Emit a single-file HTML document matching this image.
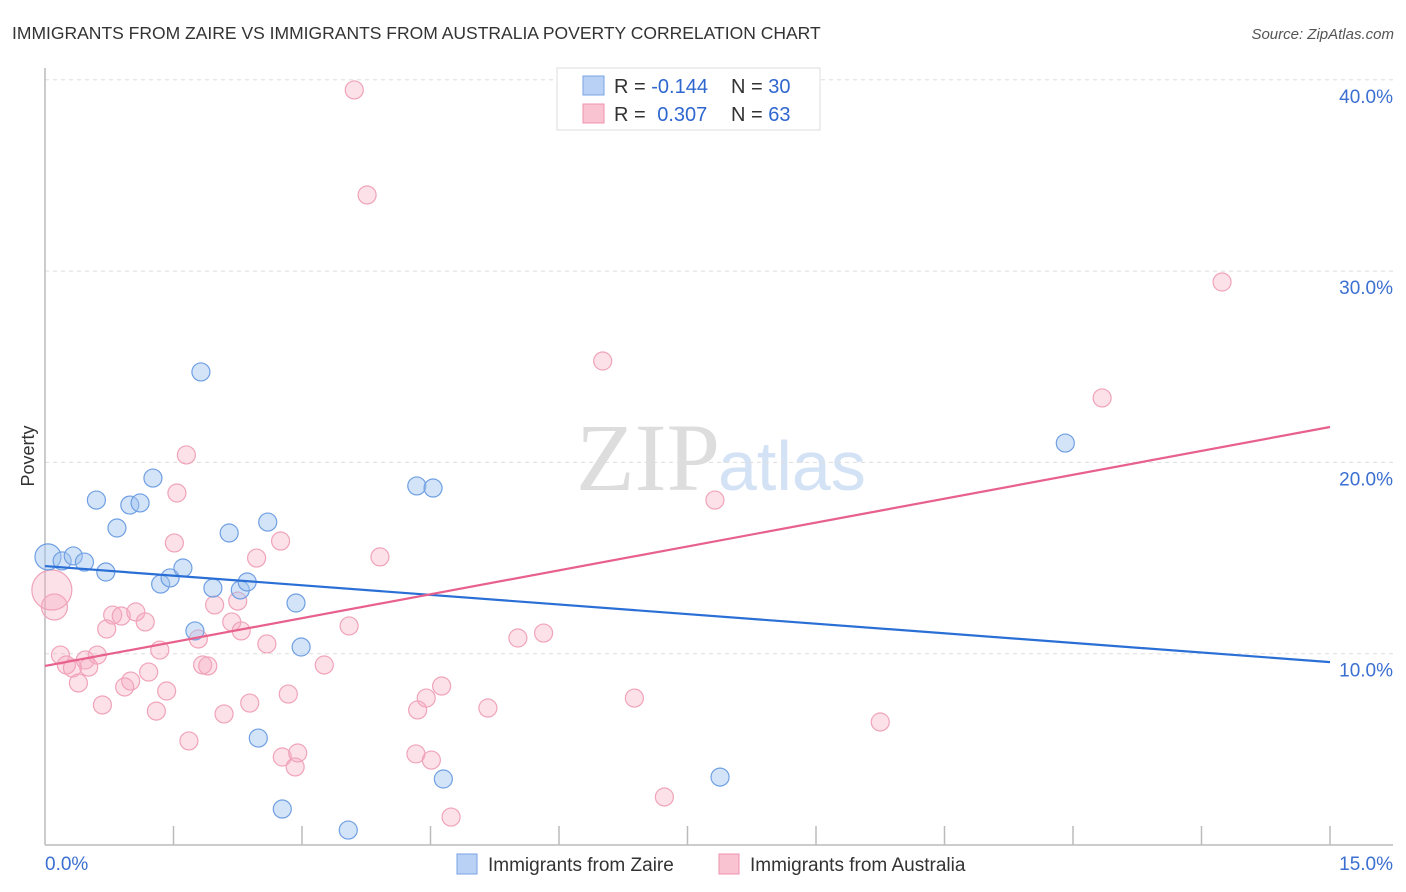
<!DOCTYPE html>
<html><head><meta charset="utf-8"><style>
body{margin:0;background:#fff;font-family:"Liberation Sans",sans-serif;}
#wrap{position:relative;width:1406px;height:892px;overflow:hidden;}
</style></head><body><div id="wrap">
<svg id="svg" width="1406" height="892" xmlns="http://www.w3.org/2000/svg">
<text x="12" y="39" font-size="17.5" fill="#333">IMMIGRANTS FROM ZAIRE VS IMMIGRANTS FROM AUSTRALIA POVERTY CORRELATION CHART</text>
<text x="1394" y="39" font-size="15" fill="#555" font-style="italic" text-anchor="end">Source: ZipAtlas.com</text>
<text x="720" y="490" font-size="96" fill="#ddd" font-family="Liberation Serif,serif" text-anchor="end">ZIP</text>
<text x="718" y="490" font-size="70" fill="#d4e2f5" text-anchor="start">atlas</text>
<text transform="translate(34,456) rotate(-90)" font-size="18" fill="#333" text-anchor="middle">Poverty</text>
<g id="grid"></g><g id="axes"></g><g id="pts"></g><g id="lines"></g>
<g>
<rect x="557" y="68" width="263" height="62" fill="#fff" stroke="#ddd"/>
<rect x="583" y="76" width="21" height="19" fill="#b9d1f5" stroke="#7aa3e5"/>
<rect x="583" y="104" width="21" height="19" fill="#f9c3d2" stroke="#ef93ad"/>
<text x="614" y="93" font-size="20" fill="#333">R = <tspan fill="#2f67cf">-0.144</tspan></text>
<text x="731" y="93" font-size="20" fill="#333">N = <tspan fill="#2f67cf">30</tspan></text>
<text x="614" y="121" font-size="20" fill="#333">R = <tspan fill="#2f67cf" dx="6">0.307</tspan></text>
<text x="731" y="121" font-size="20" fill="#333">N = <tspan fill="#2f67cf">63</tspan></text>
</g>
<g>
<rect x="457" y="854" width="20" height="20" fill="#b9d1f5" stroke="#7aa3e5"/>
<text x="488" y="871" font-size="19" fill="#333">Immigrants from Zaire</text>
<rect x="719" y="854" width="20" height="20" fill="#f9c3d2" stroke="#ef93ad"/>
<text x="750" y="871" font-size="19" fill="#333">Immigrants from Australia</text>
</g>
</svg>
<script>
const NS="http://www.w3.org/2000/svg";
const yTicks=[10,20,30,40];
const yTickLabels=["10.0%","20.0%","30.0%","40.0%"];
const xTicks=[1.5,3,4.5,6,7.5,9,10.5,12,13.5,15];
const zaireX=[0.035,0.20,0.33,0.46,0.71,0.60,0.84,0.99,1.11,1.26,1.35,1.46,1.61,1.82,1.75,1.96,2.15,2.28,2.36,2.60,2.93,2.99,2.49,2.77,3.54,4.34,4.53,4.65,7.88,11.91];
const zaireY=[15.06,14.85,15.11,14.79,14.27,18.03,16.57,17.77,17.88,19.18,13.64,13.96,14.48,24.73,11.19,13.43,16.31,13.33,13.75,16.88,12.65,10.35,5.59,1.88,0.78,18.77,18.66,3.45,3.55,21.01];
const ausX=[3.61,3.76,6.15,13.74,6.51,12.34,1.65,1.54,7.82,3.91,2.47,2.75,1.51,0.11,0.08,0.79,0.89,1.06,1.17,0.72,1.98,2.25,2.18,2.29,2.59,1.79,1.34,0.18,0.61,0.47,0.25,0.32,0.51,0.39,1.00,0.93,1.21,1.42,1.84,1.90,3.26,3.55,5.52,5.82,0.67,1.30,2.09,2.39,2.84,4.45,4.63,4.35,5.17,6.88,9.75,1.68,2.77,2.95,2.92,4.33,4.51,4.74,7.23];
const ausY=[39.47,33.98,38.68,29.43,25.30,23.37,20.39,18.40,18.03,15.06,15.00,15.89,15.79,12.44,13.33,12.02,11.97,12.18,11.66,11.29,12.55,12.75,11.66,11.19,10.51,10.77,10.19,9.93,9.93,9.67,9.41,9.25,9.30,8.47,8.57,8.26,9.04,8.05,9.41,9.36,9.41,11.45,10.82,11.08,7.32,7.00,6.85,7.42,7.89,7.68,8.31,7.06,7.16,7.68,6.43,5.44,4.60,4.81,4.08,4.76,4.44,1.46,2.51];
const zaireTrend=[14.58,9.56];
const ausTrend=[9.36,21.85];
const X0=45,X1=1330,Y0=845,YPER=19.13;
const sx=v=>X0+(v/15)*(X1-X0);
const sy=v=>Y0-v*YPER;
function mk(tag,attrs,parent){const e=document.createElementNS(NS,tag);for(const k in attrs)e.setAttribute(k,attrs[k]);parent.appendChild(e);return e;}
const grid=document.getElementById('grid'),axes=document.getElementById('axes'),pts=document.getElementById('pts'),lines=document.getElementById('lines');
yTicks.forEach((t,i)=>{
 const l=mk('line',{x1:X0,x2:1393,y1:sy(t),y2:sy(t),stroke:'#ddd','stroke-dasharray':'4,4'},grid);
 
 
 const tx=mk('text',{x:1393,y:sy(t)+23,'font-size':19,fill:'#3b6fd1','text-anchor':'end'},grid);
 tx.textContent=yTickLabels[i];
 
 
});
const ax=mk('line',{x1:X0,x2:X0,y1:68,y2:Y0,stroke:'#bbb','stroke-width':1.5},axes);


const bx=mk('line',{x1:X0,x2:1393,y1:Y0,y2:Y0,stroke:'#bbb','stroke-width':1.5},axes);


xTicks.forEach(t=>{const l=mk('line',{x1:sx(t),x2:sx(t),y1:826,y2:Y0,stroke:'#bbb','stroke-width':1.5},axes);
 
 });
const xl=mk('text',{x:45,y:870,'font-size':19,fill:'#3b6fd1'},axes);xl.textContent='0.0%';


const xr=mk('text',{x:1393,y:870,'font-size':19,fill:'#3b6fd1','text-anchor':'end'},axes);xr.textContent='15.0%';


ausX.forEach((x,i)=>{const r=i==14?20:(i==13?13:9);
 const c=mk('circle',{cx:sx(x),cy:sy(ausY[i]),r:r,fill:'rgba(246,170,192,0.35)',stroke:'#f0a3b9','stroke-width':1.2},pts);
 
 });
zaireX.forEach((x,i)=>{const r=i==0?13:9;
 const c=mk('circle',{cx:sx(x),cy:sy(zaireY[i]),r:r,fill:'rgba(160,196,240,0.45)',stroke:'#6f9fe3','stroke-width':1.2},pts);
 
 });
const t1=mk('line',{x1:sx(0),x2:sx(15),y1:sy(zaireTrend[0]),y2:sy(zaireTrend[1]),stroke:'#2a6fd6','stroke-width':2.2},lines);


const t2=mk('line',{x1:sx(0),x2:sx(15),y1:sy(ausTrend[0]),y2:sy(ausTrend[1]),stroke:'#e8608c','stroke-width':2.2},lines);


</script>
</div></body></html>
